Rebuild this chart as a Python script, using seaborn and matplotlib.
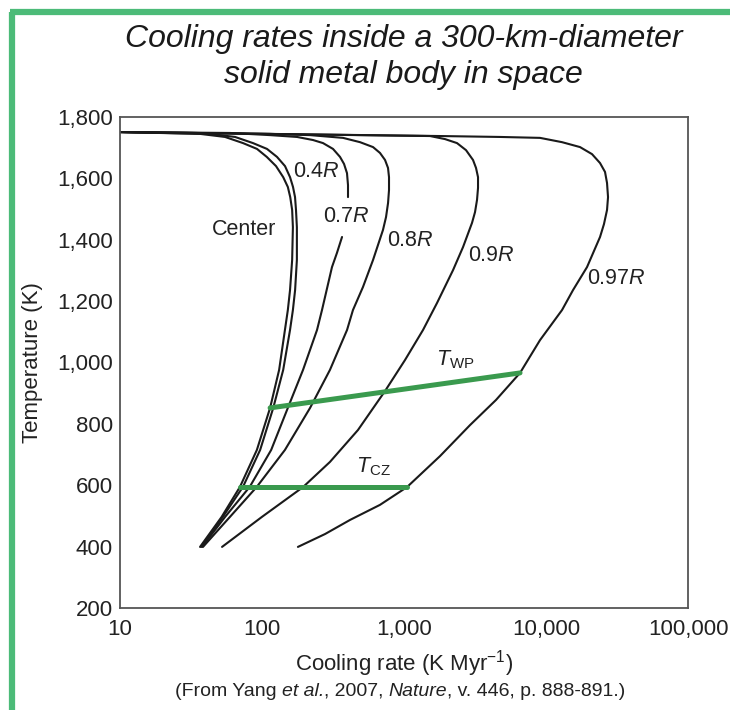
import numpy as np
import pandas as pd
import matplotlib
matplotlib.use("Agg")
import matplotlib.pyplot as plt
import seaborn as sns
from matplotlib.lines import Line2D
from matplotlib.ticker import LogLocator, NullFormatter

# * curves: cooling rate (K/Myr) vs temperature (K)
center_rate = [10, 36.6, 54.9, 73.5, 92.2, 108, 125.5, 141, 152, 158, 163, 165, 163, 157.5, 152, 145,
               132, 114, 92, 70, 52, 36.6]
center_T = [1751, 1745, 1735, 1715, 1696, 1670, 1640, 1604, 1572, 1539, 1497, 1441, 1334, 1236, 1171, 1106,
            976, 852, 715, 595, 497, 399]

r04_rate = [10, 43, 64.6, 86.4, 108.4, 127.5, 145.2, 157.5, 165.3, 170.8, 173.5, 176, 176, 171, 165, 157.5,
            141, 120, 97, 73.5, 53, 37.2]
r04_T = [1751, 1745, 1735, 1715, 1696, 1670, 1640, 1604, 1572, 1539, 1497, 1441, 1334, 1236, 1171, 1106,
         976, 852, 715, 595, 497, 399]

# 0.7R is broken where its label sits
r07_upper_rate = [10, 59.5, 113.8, 176.4, 228.6, 268.9, 316.2, 354.2, 378.1, 396.7, 403.2, 403.2]
r07_upper_T = [1751, 1748, 1741, 1735, 1725, 1715, 1696, 1670, 1647, 1617, 1578, 1539]
r07_lower_rate = [366, 337, 311, 264.5, 244, 194.5, 152, 116, 82, 55, 37.8]
r07_lower_T = [1409, 1357, 1311, 1171, 1106, 976, 852, 715, 595, 497, 399]

r08_rate = [10, 114, 218, 372, 490, 605, 677, 735, 771.5, 784, 784, 772, 747, 711, 605, 514, 437, 397,
            301, 218, 145, 92, 59.5, 38.4]
r08_T = [1751, 1745, 1741, 1732, 1718, 1702, 1683, 1660, 1634, 1604, 1562, 1520, 1474, 1432, 1334, 1246,
         1171, 1106, 976, 852, 715, 595, 497, 399]

r09_rate = [10, 1524, 1945, 2361, 2733, 3061, 3214, 3320, 3320, 3267, 3162, 3012, 2603, 2214, 1708, 1361,
            1016, 735, 474, 301, 194.5, 100, 52.3]
r09_T = [1751, 1738, 1728, 1715, 1692, 1660, 1634, 1604, 1569, 1530, 1490, 1455, 1376, 1301, 1194, 1106,
         1008, 907, 780, 676, 594, 497, 399]

r097_rate = [10, 1793, 4743, 9074, 12967, 17355, 21086, 24006, 26030, 26891, 27330, 26891, 25590, 24006,
             19444, 15494, 12967, 9074, 6561, 4446, 2916, 1793, 1050, 677, 417, 278, 179]
r097_T = [1751, 1738, 1735, 1732, 1718, 1702, 1679, 1650, 1621, 1585, 1539, 1497, 1451, 1409,
          1311, 1236, 1171, 1073, 966, 878, 796, 695, 594, 536, 487, 441, 399]

# * green isotherm lines
twp_rate = [114, 6561]
twp_T = [852, 966]
tcz_rate = [70, 1050]
tcz_T = [595, 595]

# * curve labels
label_text = ["Center", "0.4$\\it{R}$", "0.7$\\it{R}$", "0.8$\\it{R}$", "0.9$\\it{R}$", "0.97$\\it{R}$",
              "$\\it{T}_{\\rm WP}$", "$\\it{T}_{\\rm CZ}$"]
label_rate = [75, 240, 390, 1102, 4102, 31120, 2285, 605]
label_T = [1435, 1621, 1477, 1396, 1350, 1275, 1008, 659]

x_ticks = [10, 100, 1000, 10000, 100000]
x_tick_labels = ["10", "100", "1,000", "10,000", "100,000"]
y_ticks = [200, 400, 600, 800, 1000, 1200, 1400, 1600, 1800]
y_tick_labels = ["200", "400", "600", "800", "1,000", "1,200", "1,400", "1,600", "1,800"]

# * footer pieces: (text, style, space before)
footer_parts = [("(From Yang", "normal", False), ("et al.", "italic", True), (", 2007,", "normal", False),
                ("Nature", "italic", True), (", v. 446, p. 888-891.)", "normal", False)]

sns.set_style("white")
plt.rcParams["font.family"] = ["Liberation Sans", "DejaVu Sans"]
plt.rcParams["mathtext.fontset"] = "custom"
plt.rcParams["mathtext.rm"] = "Liberation Sans"
plt.rcParams["mathtext.it"] = "Liberation Sans:italic"

fig = plt.figure(figsize=(7.3, 7.1), dpi=100)
ax = fig.add_axes([0.1644, 0.1437, 0.7781, 0.6915])
ax.set_xscale("log")

curves = [
    (center_rate, center_T),
    (r04_rate, r04_T),
    (r07_upper_rate, r07_upper_T),
    (r07_lower_rate, r07_lower_T),
    (r08_rate, r08_T),
    (r09_rate, r09_T),
    (r097_rate, r097_T),
]
for rate, temp in curves:
    sns.lineplot(x=rate, y=temp, sort=False, estimator=None, color="#1a1a1a",
                 linewidth=1.5, solid_joinstyle="round", ax=ax)

for rate, temp in [(twp_rate, twp_T), (tcz_rate, tcz_T)]:
    sns.lineplot(x=rate, y=temp, sort=False, estimator=None, color="#3a9a4e",
                 linewidth=3.6, ax=ax)

for txt, xr, yt in zip(label_text, label_rate, label_T):
    ax.text(xr, yt, txt, ha="center", va="center", fontsize=15.5, color="#222222")

ax.set_xlim(10, 100000)
ax.set_ylim(200, 1800)
ax.set_xticks(x_ticks)
ax.set_xticklabels(x_tick_labels)
ax.xaxis.set_minor_locator(LogLocator(base=10, subs=np.arange(2, 10)))
ax.xaxis.set_minor_formatter(NullFormatter())
ax.set_yticks(y_ticks)
ax.set_yticklabels(y_tick_labels)
ax.tick_params(axis="both", which="both", direction="in", length=4, width=1,
               color="#444444", labelsize=16, labelcolor="#222222", pad=5)
ax.tick_params(axis="x", which="major", pad=8)
for s in ax.spines.values():
    s.set_color("#555555")
    s.set_linewidth(1.3)

ax.set_xlabel("Cooling rate (K Myr$^{\\mathrm{-1}}$)", fontsize=16, color="#222222", labelpad=6)
ax.set_ylabel("Temperature (K)", fontsize=16, color="#222222")
ax.yaxis.set_label_coords(-0.135, 0.5)

fig.text(0.553, 0.945, "Cooling rates inside a 300-km-diameter", ha="center", va="center",
         fontsize=23, style="italic", color="#1a1a1a")
fig.text(0.553, 0.895, "solid metal body in space", ha="center", va="center",
         fontsize=23, style="italic", color="#1a1a1a")

# * footer: lay the pieces side by side on one baseline, then centre the whole line
renderer = fig.canvas.get_renderer()
to_fig = fig.transFigure.inverted()
probe_a = fig.text(0, 0, "x x", fontsize=14)
probe_b = fig.text(0, 0, "xx", fontsize=14)
space_w = (probe_a.get_window_extent(renderer).width - probe_b.get_window_extent(renderer).width) / fig.bbox.width
probe_a.remove()
probe_b.remove()

x_cur = 0.0
pieces = []
for txt, style, gap in footer_parts:
    if gap:
        x_cur += space_w
    t = fig.text(x_cur, 0.02, txt, fontsize=14, style=style, color="#222222", ha="left", va="baseline")
    pieces.append(t)
    x_cur = to_fig.transform(t.get_window_extent(renderer).p1)[0]
shift = 0.548 - x_cur / 2
for t in pieces:
    x0, y0 = t.get_position()
    t.set_position((x0 + shift, y0))

# * green frame at the left and top
fig.add_artist(Line2D([0.0171, 0.0171], [0.0, 0.983], transform=fig.transFigure,
                      color="#4cbb78", linewidth=4.5, solid_capstyle="butt"))
fig.add_artist(Line2D([0.0137, 1.0], [0.983, 0.983], transform=fig.transFigure,
                      color="#4cbb78", linewidth=4.5, solid_capstyle="butt"))

fig.savefig("out.png", dpi=100)
